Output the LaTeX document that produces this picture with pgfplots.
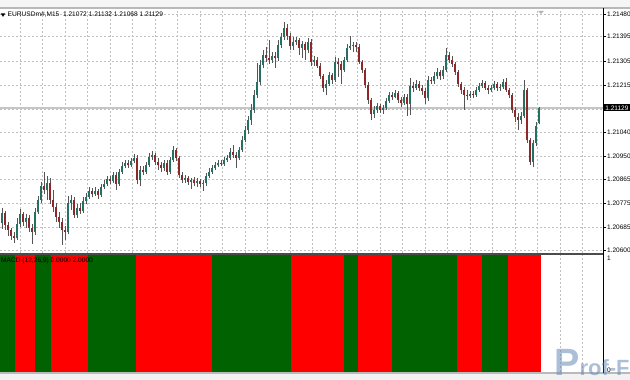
\documentclass[border=0pt]{standalone}
\usepackage{fontspec}
\setmainfont{Liberation Sans}
\usepackage{pgfplots}
\usepackage{pgfplotstable}
\pgfplotsset{compat=1.18}

\definecolor{bull}{RGB}{36,112,98}
\definecolor{bear}{RGB}{142,40,40}
\definecolor{wick}{RGB}{85,85,85}
\definecolor{mgreen}{RGB}{0,98,0}
\definecolor{mred}{RGB}{255,0,0}
\definecolor{gridc}{RGB}{192,192,192}
\definecolor{wm}{RGB}{105,140,185}

% EURUSD M15 candles: index, open, high, low, close
\pgfplotstableread{
i o h l c
0 1.20700 1.20756 1.20678 1.20737
1 1.20737 1.20745 1.20674 1.20693
2 1.20693 1.20704 1.20652 1.20674
3 1.20674 1.20682 1.20637 1.20652
4 1.20652 1.20667 1.20626 1.20644
5 1.20644 1.20719 1.20637 1.20697
6 1.20697 1.20752 1.20685 1.20734
7 1.20734 1.20741 1.20689 1.20704
8 1.20704 1.20734 1.20682 1.20719
9 1.20719 1.20730 1.20667 1.20682
10 1.20682 1.20697 1.20622 1.20667
11 1.20667 1.20756 1.20655 1.20741
12 1.20741 1.20801 1.20734 1.20786
13 1.20786 1.20853 1.20775 1.20838
14 1.20838 1.20890 1.20808 1.20823
15 1.20823 1.20876 1.20786 1.20849
16 1.20849 1.20868 1.20771 1.20786
17 1.20786 1.20823 1.20741 1.20760
18 1.20760 1.20775 1.20704 1.20723
19 1.20723 1.20741 1.20682 1.20704
20 1.20704 1.20719 1.20618 1.20674
21 1.20674 1.20689 1.20637 1.20667
22 1.20667 1.20801 1.20659 1.20775
23 1.20775 1.20805 1.20749 1.20786
24 1.20786 1.20797 1.20719 1.20730
25 1.20730 1.20771 1.20719 1.20756
26 1.20756 1.20775 1.20734 1.20745
27 1.20745 1.20797 1.20737 1.20782
28 1.20782 1.20812 1.20771 1.20797
29 1.20797 1.20835 1.20790 1.20820
30 1.20820 1.20831 1.20797 1.20808
31 1.20808 1.20835 1.20801 1.20820
32 1.20820 1.20827 1.20790 1.20805
33 1.20805 1.20846 1.20797 1.20835
34 1.20835 1.20861 1.20827 1.20846
35 1.20846 1.20876 1.20838 1.20864
36 1.20864 1.20876 1.20846 1.20857
37 1.20857 1.20890 1.20849 1.20879
38 1.20879 1.20890 1.20823 1.20846
39 1.20846 1.20902 1.20838 1.20890
40 1.20890 1.20928 1.20883 1.20913
41 1.20913 1.20935 1.20905 1.20924
42 1.20924 1.20935 1.20905 1.20916
43 1.20916 1.20943 1.20909 1.20931
44 1.20931 1.20958 1.20924 1.20943
45 1.20943 1.20954 1.20846 1.20861
46 1.20861 1.20913 1.20838 1.20898
47 1.20898 1.20913 1.20879 1.20890
48 1.20890 1.20928 1.20883 1.20916
49 1.20916 1.20961 1.20909 1.20946
50 1.20946 1.20969 1.20935 1.20954
51 1.20954 1.20961 1.20916 1.20928
52 1.20928 1.20943 1.20898 1.20916
53 1.20916 1.20928 1.20890 1.20905
54 1.20905 1.20935 1.20894 1.20924
55 1.20924 1.20935 1.20879 1.20890
56 1.20890 1.20946 1.20883 1.20935
57 1.20935 1.20987 1.20928 1.20973
58 1.20973 1.20980 1.20931 1.20943
59 1.20943 1.20950 1.20868 1.20879
60 1.20879 1.20890 1.20849 1.20861
61 1.20861 1.20879 1.20849 1.20868
62 1.20868 1.20876 1.20842 1.20853
63 1.20853 1.20868 1.20827 1.20861
64 1.20861 1.20872 1.20838 1.20849
65 1.20849 1.20868 1.20835 1.20857
66 1.20857 1.20864 1.20835 1.20846
67 1.20846 1.20861 1.20820 1.20849
68 1.20849 1.20887 1.20838 1.20876
69 1.20876 1.20905 1.20868 1.20890
70 1.20890 1.20916 1.20883 1.20905
71 1.20905 1.20928 1.20898 1.20916
72 1.20916 1.20935 1.20909 1.20924
73 1.20924 1.20935 1.20913 1.20920
74 1.20920 1.20946 1.20913 1.20935
75 1.20935 1.20954 1.20928 1.20943
76 1.20943 1.20980 1.20935 1.20965
77 1.20965 1.20991 1.20943 1.20954
78 1.20954 1.20965 1.20905 1.20943
79 1.20943 1.20984 1.20935 1.20973
80 1.20973 1.21025 1.20965 1.21010
81 1.21010 1.21062 1.21002 1.21047
82 1.21047 1.21099 1.21032 1.21084
83 1.21084 1.21144 1.21066 1.21122
84 1.21122 1.21196 1.21110 1.21178
85 1.21178 1.21297 1.21166 1.21226
86 1.21226 1.21308 1.21215 1.21289
87 1.21289 1.21346 1.21278 1.21327
88 1.21327 1.21357 1.21301 1.21316
89 1.21316 1.21383 1.21293 1.21308
90 1.21308 1.21338 1.21297 1.21323
91 1.21323 1.21338 1.21278 1.21316
92 1.21316 1.21383 1.21304 1.21364
93 1.21364 1.21409 1.21353 1.21394
94 1.21394 1.21450 1.21383 1.21428
95 1.21428 1.21442 1.21383 1.21398
96 1.21398 1.21409 1.21346 1.21360
97 1.21360 1.21394 1.21346 1.21375
98 1.21375 1.21394 1.21364 1.21383
99 1.21383 1.21390 1.21327 1.21353
100 1.21353 1.21379 1.21316 1.21368
101 1.21368 1.21375 1.21308 1.21346
102 1.21346 1.21390 1.21334 1.21375
103 1.21375 1.21386 1.21286 1.21301
104 1.21301 1.21323 1.21286 1.21308
105 1.21308 1.21319 1.21278 1.21286
106 1.21286 1.21297 1.21237 1.21248
107 1.21248 1.21256 1.21189 1.21204
108 1.21204 1.21234 1.21178 1.21219
109 1.21219 1.21263 1.21211 1.21252
110 1.21252 1.21260 1.21219 1.21234
111 1.21234 1.21319 1.21226 1.21301
112 1.21301 1.21316 1.21245 1.21293
113 1.21293 1.21304 1.21219 1.21271
114 1.21271 1.21319 1.21263 1.21308
115 1.21308 1.21368 1.21301 1.21353
116 1.21353 1.21398 1.21346 1.21360
117 1.21360 1.21375 1.21338 1.21364
118 1.21364 1.21375 1.21338 1.21357
119 1.21357 1.21368 1.21293 1.21301
120 1.21301 1.21308 1.21260 1.21271
121 1.21271 1.21278 1.21204 1.21215
122 1.21215 1.21226 1.21144 1.21159
123 1.21159 1.21166 1.21084 1.21107
124 1.21107 1.21137 1.21092 1.21122
125 1.21122 1.21148 1.21110 1.21137
126 1.21137 1.21144 1.21110 1.21122
127 1.21122 1.21140 1.21107 1.21129
128 1.21129 1.21166 1.21122 1.21155
129 1.21155 1.21189 1.21148 1.21178
130 1.21178 1.21189 1.21159 1.21170
131 1.21170 1.21196 1.21166 1.21185
132 1.21185 1.21193 1.21148 1.21159
133 1.21159 1.21170 1.21133 1.21148
134 1.21148 1.21181 1.21140 1.21170
135 1.21170 1.21181 1.21099 1.21144
136 1.21144 1.21241 1.21103 1.21211
137 1.21211 1.21226 1.21189 1.21204
138 1.21204 1.21234 1.21196 1.21219
139 1.21219 1.21230 1.21193 1.21204
140 1.21204 1.21215 1.21178 1.21193
141 1.21193 1.21204 1.21144 1.21166
142 1.21166 1.21248 1.21155 1.21234
143 1.21234 1.21245 1.21219 1.21230
144 1.21230 1.21263 1.21219 1.21248
145 1.21248 1.21278 1.21237 1.21263
146 1.21263 1.21271 1.21234 1.21248
147 1.21248 1.21286 1.21237 1.21271
148 1.21271 1.21353 1.21263 1.21327
149 1.21327 1.21338 1.21297 1.21308
150 1.21308 1.21323 1.21282 1.21293
151 1.21293 1.21301 1.21252 1.21263
152 1.21263 1.21271 1.21207 1.21219
153 1.21219 1.21226 1.21181 1.21196
154 1.21196 1.21207 1.21122 1.21178
155 1.21178 1.21196 1.21159 1.21174
156 1.21174 1.21193 1.21166 1.21181
157 1.21181 1.21193 1.21166 1.21178
158 1.21178 1.21207 1.21170 1.21196
159 1.21196 1.21222 1.21189 1.21211
160 1.21211 1.21234 1.21204 1.21222
161 1.21222 1.21230 1.21196 1.21204
162 1.21204 1.21215 1.21181 1.21196
163 1.21196 1.21215 1.21189 1.21204
164 1.21204 1.21230 1.21196 1.21219
165 1.21219 1.21226 1.21193 1.21204
166 1.21204 1.21219 1.21193 1.21207
167 1.21207 1.21237 1.21200 1.21226
168 1.21226 1.21241 1.21189 1.21196
169 1.21196 1.21204 1.21166 1.21178
170 1.21178 1.21185 1.21110 1.21122
171 1.21122 1.21133 1.21077 1.21096
172 1.21096 1.21110 1.21047 1.21084
173 1.21084 1.21114 1.21069 1.21099
174 1.21099 1.21234 1.21092 1.21196
175 1.21196 1.21204 1.20999 1.21010
176 1.21010 1.21017 1.20916 1.20928
177 1.20928 1.21010 1.20909 1.20999
178 1.20999 1.21077 1.20987 1.21062
179 1.21072 1.21132 1.21068 1.21129
}\candles

% the price axis is drawn in points above 1.20000 (1 point = 0.00001)
\pgfplotsset{
  chartgrid/.style={
    xmin=-0.6667, xmax=200.3333,
    scale only axis, axis line style={draw=none},
    xtick={6,13.5,...,194}, xticklabels={,,}, xtick style={draw=none},
    xmajorgrids,
    major grid style={gridc, dash pattern=on 2pt off 2pt, line width=0.6pt},
  },
  candle/.style 2 args={draw=none, mark=none,
    error bars/.cd, y dir=both, y explicit, error mark=none,
    error bar style={line width=#1, draw=#2, solid}, /pgfplots/.cd},
}

\begin{document}
\begin{tikzpicture}
\useasboundingbox (0pt,0pt) rectangle (630pt,380pt);
\fill[white] (0pt,0pt) rectangle (630pt,380pt);
\fill[gray!8] (0pt,373pt) rectangle (630pt,380pt);
\fill[gray!10] (0pt,0pt) rectangle (630pt,6.5pt);

% ---------- price panel ----------
\begin{axis}[chartgrid,
  at={(0pt,127pt)}, anchor=south west, width=603pt, height=244pt,
  ymin=588.3, ymax=1498.4,
  ymajorgrids,
  ytick={600,685,775,865,950,1040,1125,1215,1305,1395,1480},
  yticklabels={1.20600,1.20685,1.20775,1.20865,1.20950,1.21040,,1.21215,1.21305,1.21395,1.21480},
  ytick pos=right, yticklabel pos=right,
  tick align=outside, major tick length=3pt,
  ytick style={black, line width=0.6pt},
  yticklabel style={font=\fontsize{6.5}{7}\selectfont, inner sep=1pt, anchor=west},
]
\addplot[gray!45, line width=1.1pt] coordinates {(-1,1129) (201,1129)};
% wicks
\addplot[candle={0.9pt}{wick}]
  table[x=i, y expr=(\thisrow{l}-1.2)*100000,
        y error plus expr=(\thisrow{h}-\thisrow{l})*100000, y error minus expr=0] {\candles};
% bull bodies
\addplot[restrict expr to domain={(\thisrow{c}-\thisrow{o})*100000}{0:1000}, candle={2.5pt}{black!85}]
  table[x=i, y expr=(\thisrow{o}-1.2)*100000,
        y error plus expr={max((\thisrow{c}-\thisrow{o})*100000,1.2)}, y error minus expr=0] {\candles};
\addplot[restrict expr to domain={(\thisrow{c}-\thisrow{o})*100000}{0:1000}, candle={1.5pt}{bull}]
  table[x=i, y expr=(\thisrow{o}-1.2)*100000,
        y error plus expr={max((\thisrow{c}-\thisrow{o})*100000,1.2)}, y error minus expr=0] {\candles};
% bear bodies
\addplot[restrict expr to domain={(\thisrow{c}-\thisrow{o})*100000}{-1000:-0.5}, candle={2.5pt}{black!85}]
  table[x=i, y expr=(\thisrow{c}-1.2)*100000,
        y error plus expr=(\thisrow{o}-\thisrow{c})*100000, y error minus expr=0] {\candles};
\addplot[restrict expr to domain={(\thisrow{c}-\thisrow{o})*100000}{-1000:-0.5}, candle={1.5pt}{bear}]
  table[x=i, y expr=(\thisrow{c}-1.2)*100000,
        y error plus expr=(\thisrow{o}-\thisrow{c})*100000, y error minus expr=0] {\candles};
\end{axis}

% ---------- indicator panel ----------
\begin{axis}[chartgrid,
  at={(0pt,8pt)}, anchor=south west, width=603pt, height=117pt,
  ymin=0, ymax=1, ytick=\empty,
]
\addplot[fill=mgreen, draw=none] coordinates {(-0.7,0) (4.33,0) (4.33,1) (-0.7,1)} -- cycle;
\addplot[fill=mred, draw=none] coordinates {(4.33,0) (11.0,0) (11.0,1) (4.33,1)} -- cycle;
\addplot[fill=mgreen, draw=none] coordinates {(11.0,0) (16.33,0) (16.33,1) (11.0,1)} -- cycle;
\addplot[fill=mred, draw=none] coordinates {(16.33,0) (28.67,0) (28.67,1) (16.33,1)} -- cycle;
\addplot[fill=mgreen, draw=none] coordinates {(28.67,0) (44.67,0) (44.67,1) (28.67,1)} -- cycle;
\addplot[fill=mred, draw=none] coordinates {(44.67,0) (70.0,0) (70.0,1) (44.67,1)} -- cycle;
\addplot[fill=mgreen, draw=none] coordinates {(70.0,0) (96.33,0) (96.33,1) (70.0,1)} -- cycle;
\addplot[fill=mred, draw=none] coordinates {(96.33,0) (114.0,0) (114.0,1) (96.33,1)} -- cycle;
\addplot[fill=mgreen, draw=none] coordinates {(114.0,0) (118.67,0) (118.67,1) (114.0,1)} -- cycle;
\addplot[fill=mred, draw=none] coordinates {(118.67,0) (130.0,0) (130.0,1) (118.67,1)} -- cycle;
\addplot[fill=mgreen, draw=none] coordinates {(130.0,0) (151.67,0) (151.67,1) (130.0,1)} -- cycle;
\addplot[fill=mred, draw=none] coordinates {(151.67,0) (160.0,0) (160.0,1) (151.67,1)} -- cycle;
\addplot[fill=mgreen, draw=none] coordinates {(160.0,0) (168.67,0) (168.67,1) (160.0,1)} -- cycle;
\addplot[fill=mred, draw=none] coordinates {(168.67,0) (179.67,0) (179.67,1) (168.67,1)} -- cycle;
\end{axis}

% ---------- frame and texts ----------
\draw[gray!55, line width=1.2pt] (0pt,372pt) -- (630pt,372pt);
\draw[gray!60!black, line width=1.6pt] (0pt,126pt) -- (603pt,126pt);
\draw[gray!55, line width=1.2pt] (0pt,7pt) -- (630pt,7pt);
\draw[black, line width=0.8pt] (603pt,7pt) -- (603pt,372pt);
\fill[gray!60] (538pt,369pt) -- (544pt,369pt) -- (541pt,366pt) -- cycle;

\fill[black] (0.8pt,366.5pt) -- (5.2pt,366.5pt) -- (3pt,363.2pt) -- cycle;
\node[anchor=west, inner sep=0pt, font=\fontsize{6.6}{7}\selectfont] at (7.5pt,365pt)
  {EURUSDm\#,M15\ \ 1.21072 1.21132 1.21068 1.21129};
\node[anchor=west, inner sep=0pt, font=\fontsize{6.6}{7}\selectfont] at (1pt,119pt)
  {MACD (12,26,9) 0.0000 2.0000};
\node[anchor=west, fill=black, text=white, inner sep=1.2pt, font=\fontsize{6.5}{7}\selectfont] at (604pt,272pt) {1.21129};
\node[anchor=west, inner sep=0pt, font=\fontsize{6.5}{7}\selectfont] at (607pt,122pt) {1};
\node[anchor=west, inner sep=0pt, font=\fontsize{6.5}{7}\selectfont] at (607pt,10pt) {0};
\node[anchor=base west, inner sep=0pt, text=wm, opacity=0.55, font=\bfseries] at (554pt,4pt)
  {\fontsize{38}{38}\selectfont P\fontsize{22}{22}\selectfont rof-F};
\end{tikzpicture}
\end{document}
